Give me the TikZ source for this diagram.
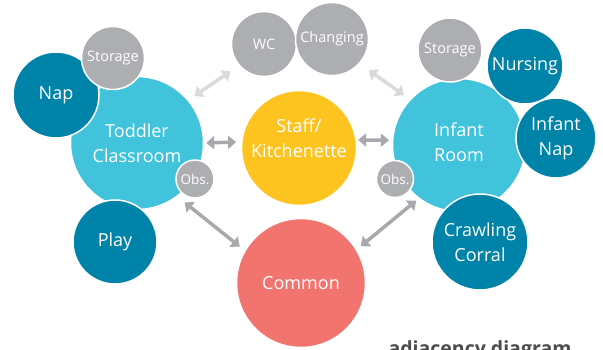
\documentclass[tikz,border=0pt]{standalone}
\usepackage{fontspec}
\setmainfont{Open Sans}
\usetikzlibrary{arrows.meta}
\definecolor{cyanc}{HTML}{41C3DC}
\definecolor{tealc}{HTML}{0083A9}
\definecolor{grayc}{HTML}{ADAEB1}
\definecolor{yellowc}{HTML}{FDC31F}
\definecolor{coralc}{HTML}{F1746E}
\definecolor{arrowd}{HTML}{A7A9AC}
\definecolor{arrowl}{HTML}{D9DADB}
\definecolor{titlec}{HTML}{4D4D4F}
\begin{document}
\begin{tikzpicture}[x=1pt,y=-1pt,
  bub/.style={circle,draw=white,line width=1.5pt,inner sep=0pt,text=white,align=center,font=\fontsize{18}{25}\selectfont},
  smallbub/.style={bub,fill=grayc,font=\fontsize{14.5}{17}\selectfont},
  obsbub/.style={bub,fill=grayc,font=\fontsize{13.5}{16}\selectfont},
  btext/.style={text=white,align=center,inner sep=0pt,font=\fontsize{18}{25}\selectfont},
  darr/.style={draw=arrowd,line width=3.5pt,{Triangle[length=8pt,width=13pt]}-{Triangle[length=8pt,width=13pt]}},
  larr/.style={draw=arrowl,line width=3.5pt,{Triangle[length=8pt,width=13pt]}-{Triangle[length=8pt,width=13pt]}}
]
\useasboundingbox (0,0) rectangle (603,349);
\clip (0,0) rectangle (603,349);
\fill[white] (0,0) rectangle (603,349);

% main rooms
\node[bub,fill=cyanc,minimum size=133pt] (toddler) at (137,143) {Toddler\\Classroom};
\node[bub,fill=yellowc,minimum size=115pt] (staff) at (299,148) {};
\node[btext] (stafftext) at ([yshift=10pt]staff.center) {Staff/\\Kitchenette};
\node[bub,fill=cyanc,minimum size=133pt] (infant) at (459,145) {};
\node[btext] (infanttext) at ([yshift=3pt]infant.center) {Infant\\Room};
\node[bub,fill=coralc,minimum size=129pt] (common) at (301,283) {Common};

% top service
\node[smallbub,minimum size=65pt] (wc) at (264,44) {WC};
\node[smallbub,minimum size=73pt] (changing) at (332,39) {Changing};

% toddler satellites
\node[bub,fill=tealc,minimum size=86pt] (nap) at (56,95) {Nap};
\node[smallbub,minimum size=63pt] (storl) at (113,58) {Storage};
\node[obsbub,minimum size=38pt] (obsl) at (195,179) {Obs.};
\node[bub,fill=tealc,minimum size=84pt] (play) at (115,242) {Play};

% infant satellites
\node[smallbub,minimum size=64pt] (storr) at (450,50) {Storage};
\node[bub,fill=tealc,minimum size=76pt] (nursing) at (525,66) {Nursing};
\node[bub,fill=tealc,minimum size=80pt] (infnap) at (556,138) {Infant\\Nap};
\node[obsbub,minimum size=37pt] (obsr) at (395,179) {Obs.};
\node[bub,fill=tealc,minimum size=96pt] (crawl) at (480,242) {Crawling\\Corral};

% connectors
\draw[larr,shorten <=7pt,shorten >=10pt] (toddler.40) -- (wc.221);
\draw[larr,shorten <=11pt,shorten >=7pt] (changing.318) -- (infant.137);
\draw[darr,shorten <=2pt,shorten >=5pt] (toddler.0) -- (staff.174);
\draw[darr,shorten <=1.5pt,shorten >=3pt] (staff.8) -- (infant.176);
\draw[darr,shorten <=9pt,shorten >=6pt] (toddler.-53) -- (common.150);
\draw[darr,shorten <=3pt,shorten >=5pt] (infant.233) -- (common.31);

% title (cut off by the frame, as in the reference)
\node[anchor=base,text=titlec,font=\fontsize{19.5}{22}\selectfont\bfseries] (title) at (480,355) {adjacency diagram};
\end{tikzpicture}
\end{document}
